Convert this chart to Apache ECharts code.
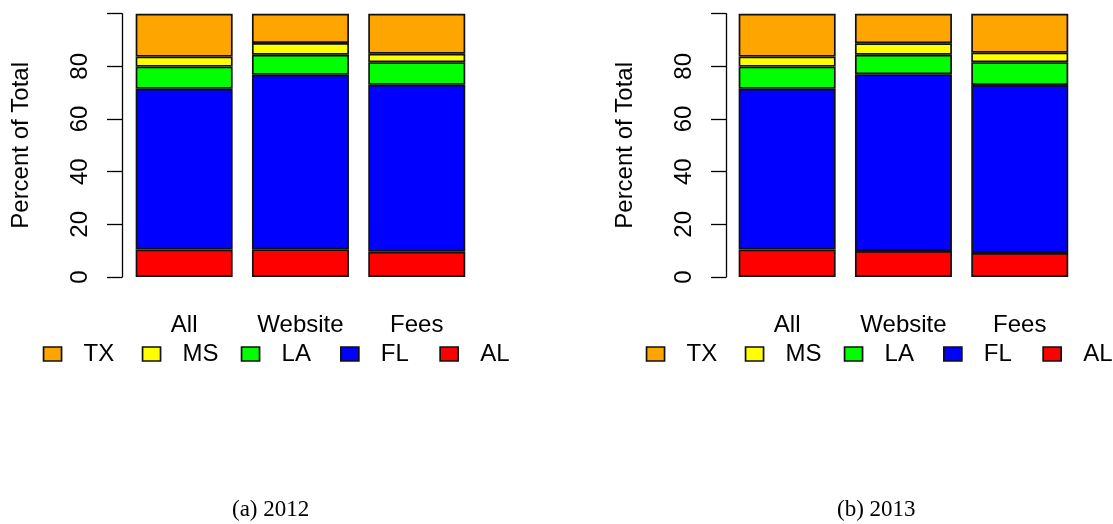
<!DOCTYPE html>
<html>
<head>
<meta charset="utf-8">
<script src="https://cdn.jsdelivr.net/npm/echarts@6/dist/echarts.min.js"></script>
<style>
html,body{margin:0;padding:0;background:#fff;}
#chart{width:1113px;height:524px;}
</style>
</head>
<body>
<div id="chart"></div>
<script>
// Categories and stacked state shares (percent of total), bottom to top: AL, FL, LA, MS, TX
const categories = ['All', 'Website', 'Fees'];
const states = ['AL', 'FL', 'LA', 'MS', 'TX'];
const legendOrder = ['TX', 'MS', 'LA', 'FL', 'AL'];
const stateColors = { AL: '#FF0000', FL: '#0000FF', LA: '#00FF00', MS: '#FFFF00', TX: '#FFA500' };
const yTicks = [0, 20, 40, 60, 80, 100];
const captions = ['(a) 2012', '(b) 2013'];

const y2012_AL = [10.4, 10.5, 9.6];
const y2012_FL = [61.1, 66.3, 63.4];
const y2012_LA = [8.4, 7.6, 8.6];
const y2012_MS = [3.8, 4.5, 3.2];
const y2012_TX = [16.3, 11.1, 15.2];

const y2013_AL = [10.4, 9.9, 9.1];
const y2013_FL = [61.1, 67.1, 63.8];
const y2013_LA = [8.4, 7.4, 8.7];
const y2013_MS = [3.8, 4.4, 3.6];
const y2013_TX = [16.3, 11.2, 14.8];

const panels = [
  { AL: y2012_AL, FL: y2012_FL, LA: y2012_LA, MS: y2012_MS, TX: y2012_TX },
  { AL: y2013_AL, FL: y2013_FL, LA: y2013_LA, MS: y2013_MS, TX: y2013_TX }
];

const FONT = 'Liberation Sans, Arial, sans-serif';
const gridLefts = [126, 729];
const bandW = 116.3;
const axisOffsets = [4, 3];
const legendBoxX = [[42.7, 141.7, 240.7, 340, 439.3], [645.7, 744.7, 843.7, 943, 1042.3]];

const grids = [], xAxes = [], yAxes = [], series = [], legends = [], graphics = [];
panels.forEach((p, i) => {
  grids.push({ left: gridLefts[i], top: 13.7, width: bandW * 3, height: 263.3, containLabel: false });
  xAxes.push({
    type: 'category', gridIndex: i, data: categories,
    axisLine: { show: false }, axisTick: { show: false },
    axisLabel: { color: '#000', fontFamily: FONT, fontSize: 24, margin: 36 }
  });
  yAxes.push({
    type: 'value', gridIndex: i, min: 0, max: 100, interval: 20, offset: axisOffsets[i],
    name: 'Percent of Total', nameLocation: 'middle', nameGap: 89,
    nameTextStyle: { color: '#000', fontFamily: FONT, fontSize: 24 },
    axisLine: { show: true, lineStyle: { color: '#000', width: 1.3 } },
    axisTick: { show: true, length: 15, lineStyle: { color: '#000', width: 1.3 } },
    splitLine: { show: false },
    axisLabel: {
      color: '#000', fontFamily: FONT, fontSize: 24, rotate: 90, margin: 30,
      formatter: v => (v === 100 ? '' : String(v))
    }
  });
  states.forEach(s => {
    series.push({
      type: 'bar', name: s, stack: 'panel' + i, xAxisIndex: i, yAxisIndex: i,
      data: p[s], barWidth: 97,
      itemStyle: { color: stateColors[s], borderColor: '#111', borderWidth: 1.7 },
      emphasis: { disabled: true }
    });
  });
  legendOrder.forEach((s, k) => {
    legends.push({
      data: [{ name: s, icon: 'rect' }], left: legendBoxX[i][k], top: 342, padding: 0,
      itemWidth: 18, itemHeight: 14, selectedMode: false,
      itemStyle: { borderColor: '#111', borderWidth: 1.7 },
      textStyle: { color: '#000', fontFamily: FONT, fontSize: 24, padding: [0, 0, 0, 17] }
    });
  });
  graphics.push({
    type: 'text', left: [232, 837][i], top: 498,
    style: { text: captions[i], font: '23px "Liberation Serif", serif', fill: '#000', textAlign: 'center' }
  });
});

const chart = echarts.init(document.getElementById('chart'));
chart.setOption({
  animation: false,
  backgroundColor: '#fff',
  color: states.map(s => stateColors[s]),
  grid: grids, xAxis: xAxes, yAxis: yAxes, series: series, legend: legends,
  graphic: graphics
});
</script>
</body>
</html>
